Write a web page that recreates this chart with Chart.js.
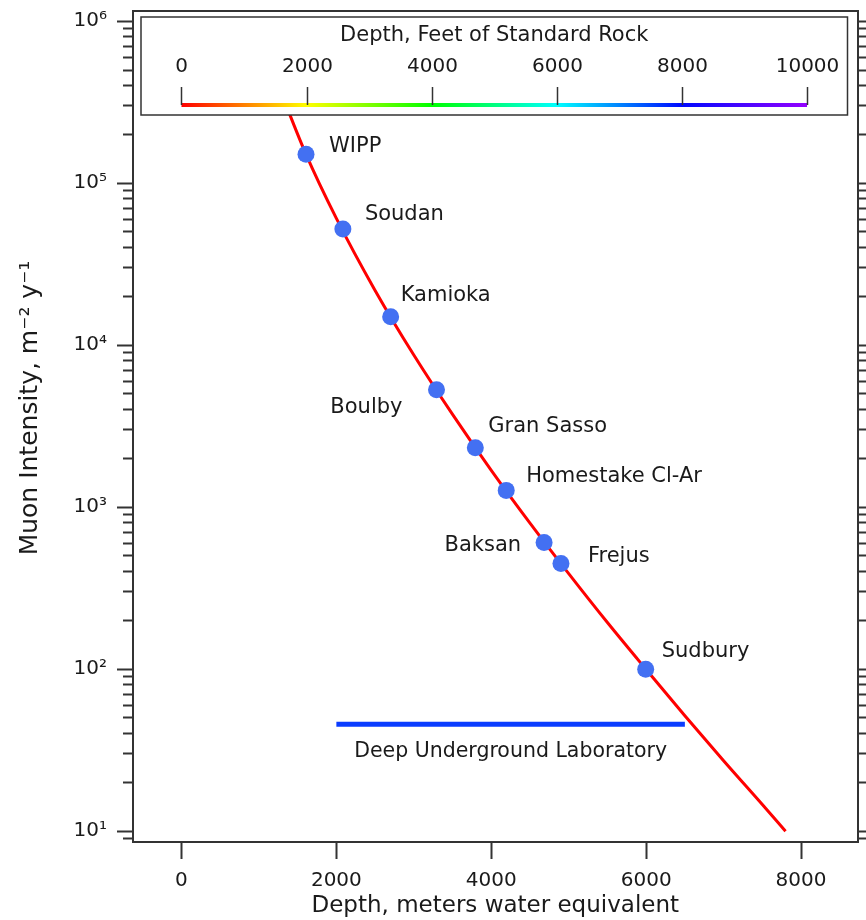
<!DOCTYPE html>
<html>
<head>
<meta charset="utf-8">
<script src="https://cdn.jsdelivr.net/npm/chart.js@4.4.0/dist/chart.umd.min.js"></script>
<style>
  body { margin: 0; background: #fff; }
</style>
</head>
<body>
<canvas id="grafico" width="866" height="920"></canvas>
<script>
// underground labs
const labNames = ['WIPP', 'Soudan', 'Kamioka', 'Boulby', 'Gran Sasso', 'Homestake Cl-Ar', 'Baksan', 'Frejus', 'Sudbury'];
const labDepth = [1608, 2084, 2701, 3293, 3794, 4193, 4682, 4900, 5994];
const labIntensity = [1.51e5, 5.22e4, 1.50e4, 5.31e3, 2.33e3, 1.27e3, 605, 449, 100];

// fitted curve
const fitDepth = [1200, 1600, 2000, 2500, 3000, 3500, 4000, 4500, 5000, 5500, 6000, 6500, 7000, 7500, 7800];
const fitIntensity = [4.64e5, 1.54e5, 6.07e4, 2.18e4, 8.7e3, 3.74e3, 1.69e3, 798, 389, 194, 99.5, 51.6, 27.2, 14.6, 10];

// deep underground laboratory band
const dulDepth = [2000, 6500];
const dulIntensity = [45.7, 45.7];

const depthTicks = [0, 2000, 4000, 6000, 8000];
const intensityTicks = [1e1, 1e2, 1e3, 1e4, 1e5, 1e6];
const feetTicks = [0, 2000, 4000, 6000, 8000, 10000];

// label placement: dx, dy from the marker, text alignment
const labelPlace = [
  [23, -8, 'left'], [22, -14, 'left'], [10, -21, 'left'], [-34, 18, 'right'],
  [13, -21, 'left'], [20, -14, 'left'], [-23, 3, 'right'], [27, -7, 'left'], [16, -18, 'left']
];

const FT_TO_MWE = 0.3048 * 2.65;   // standard rock, 2.65 g/cm3
const FONT = '"DejaVu Sans", sans-serif';
const INK = '#1a1a1a';
const FRAME = '#333';

const yMin = 8.57, yMax = 1.157e6;
const xMin = -626, xMax = 8729;

const sup = { 1: '¹', 2: '²', 3: '³', 4: '⁴', 5: '⁵', 6: '⁶' };

const minorTicks = [];
[1, 10, 100, 1000, 10000, 100000].forEach(d => {
  for (let k = 2; k <= 9; k++) {
    const v = d * k;
    if (v > yMin && v < yMax) minorTicks.push(v);
  }
});
const allTicks = intensityTicks.concat(minorTicks);

// rainbow hue along the feet scale
const hueStops = [[0, 0], [0.2, 60], [0.4, 120], [0.6, 180], [0.8, 238], [1, 275]];

const noPad = s => { s.paddingTop = 0; s.paddingBottom = 0; s.paddingLeft = 0; s.paddingRight = 0; };

const overlay = {
  id: 'overlay',
  afterDatasetsDraw(chart) {
    const { ctx, chartArea: ca, scales: { x, y } } = chart;
    ctx.save();

    // site names
    ctx.font = '21px ' + FONT;
    ctx.fillStyle = INK;
    ctx.textBaseline = 'middle';
    labNames.forEach((name, i) => {
      const [dx, dy, align] = labelPlace[i];
      ctx.textAlign = align;
      ctx.fillText(name, x.getPixelForValue(labDepth[i]) + dx, y.getPixelForValue(labIntensity[i]) + dy);
    });
    ctx.textAlign = 'center';
    ctx.font = '20.5px ' + FONT;
    ctx.fillText('Deep Underground Laboratory',
      x.getPixelForValue((dulDepth[0] + dulDepth[1]) / 2), y.getPixelForValue(dulIntensity[0]) + 27);

    // colour key: feet of standard rock
    const bx = ca.left + 8, by = ca.top + 6, bw = ca.right - 10 - bx, bh = 98;
    ctx.fillStyle = '#fff';
    ctx.fillRect(bx, by, bw, bh);
    ctx.strokeStyle = FRAME;
    ctx.lineWidth = 1.5;
    ctx.strokeRect(bx, by, bw, bh);

    const x0 = x.getPixelForValue(feetTicks[0] * FT_TO_MWE);
    const x1 = x.getPixelForValue(feetTicks[feetTicks.length - 1] * FT_TO_MWE);
    const barY = by + 88;
    const grad = ctx.createLinearGradient(x0, 0, x1, 0);
    hueStops.forEach(([t, h]) => grad.addColorStop(t, 'hsl(' + h + ',100%,50%)'));
    ctx.fillStyle = grad;
    ctx.fillRect(x0, barY - 2, x1 - x0, 4);

    ctx.strokeStyle = FRAME;
    ctx.lineWidth = 1.5;
    ctx.fillStyle = INK;
    ctx.font = '20px ' + FONT;
    feetTicks.forEach(ft => {
      const px = Math.round(x.getPixelForValue(ft * FT_TO_MWE)) + 0.5;
      ctx.beginPath();
      ctx.moveTo(px, barY - 18);
      ctx.lineTo(px, barY);
      ctx.stroke();
      ctx.fillText(String(ft), px, by + 50);
    });
    ctx.font = '21px ' + FONT;
    ctx.fillText('Depth, Feet of Standard Rock', bx + bw / 2, by + 19);

    // y title with superscripts
    ctx.translate(30, 408);
    ctx.rotate(-Math.PI / 2);
    ctx.font = '25px ' + FONT;
    ctx.fillText('Muon Intensity, m⁻² y⁻¹', 0, 0);
    ctx.restore();
  }
};

const tickFont = { family: FONT, size: 20 };

new Chart(document.getElementById('grafico').getContext('2d'), {
  data: {
    datasets: [
      {
        type: 'scatter',
        data: labDepth.map((d, i) => ({ x: d, y: labIntensity[i] })),
        backgroundColor: '#4370f2',
        borderWidth: 0,
        pointRadius: 8.5
      },
      {
        type: 'line',
        data: fitDepth.map((d, i) => ({ x: d, y: fitIntensity[i] })),
        borderColor: '#ff0000',
        borderWidth: 3,
        pointRadius: 0,
        cubicInterpolationMode: 'monotone'
      },
      {
        type: 'line',
        data: dulDepth.map((d, i) => ({ x: d, y: dulIntensity[i] })),
        borderColor: '#0a3cff',
        borderWidth: 5,
        pointRadius: 0
      }
    ]
  },
  options: {
    responsive: false,
    animation: false,
    layout: { padding: 0 },
    plugins: { legend: { display: false }, tooltip: { enabled: false } },
    scales: {
      x: {
        type: 'linear', position: 'bottom', min: xMin, max: xMax,
        afterBuildTicks: s => { s.ticks = depthTicks.map(v => ({ value: v })); },
        afterFit: s => { s.height = 78; noPad(s); },
        grid: { drawOnChartArea: false, tickLength: 17, tickColor: FRAME, tickWidth: 2 },
        border: { color: FRAME, width: 2 },
        ticks: { color: INK, font: tickFont, padding: 10, maxRotation: 0, callback: v => String(v) },
        title: { display: true, text: 'Depth, meters water equivalent', color: INK, font: { family: FONT, size: 23 }, padding: 0 }
      },
      xTop: {
        type: 'linear', position: 'top', min: xMin, max: xMax,
        afterFit: s => { s.height = 11; noPad(s); },
        grid: { display: false, drawTicks: false },
        border: { color: FRAME, width: 2 },
        ticks: { display: false }
      },
      y: {
        type: 'logarithmic', position: 'left', weight: 1, min: yMin, max: yMax,
        afterBuildTicks: s => { s.ticks = intensityTicks.map(v => ({ value: v })); },
        afterFit: s => { s.width = 133; noPad(s); },
        grid: { drawOnChartArea: false, tickLength: 16, tickColor: FRAME, tickWidth: 2 },
        border: { color: FRAME, width: 2 },
        ticks: { color: INK, font: tickFont, padding: 10, callback: v => '10' + sup[Math.round(Math.log10(v))] }
      },
      yMinor: {
        type: 'logarithmic', position: 'left', weight: 0, min: yMin, max: yMax,
        afterBuildTicks: s => { s.ticks = minorTicks.map(v => ({ value: v })); },
        afterFit: s => { s.width = 0; noPad(s); },
        grid: { drawOnChartArea: false, tickLength: 10, tickColor: FRAME, tickWidth: 2 },
        border: { display: false },
        ticks: { display: false }
      },
      yRight: {
        type: 'logarithmic', position: 'right', min: yMin, max: yMax,
        afterBuildTicks: s => { s.ticks = allTicks.map(v => ({ value: v })); },
        afterFit: s => { s.width = 8; noPad(s); },
        grid: { drawOnChartArea: false, tickLength: 10, tickColor: FRAME, tickWidth: 2 },
        border: { color: FRAME, width: 2 },
        ticks: { display: false }
      }
    }
  },
  plugins: [overlay]
});
</script>
</body>
</html>
